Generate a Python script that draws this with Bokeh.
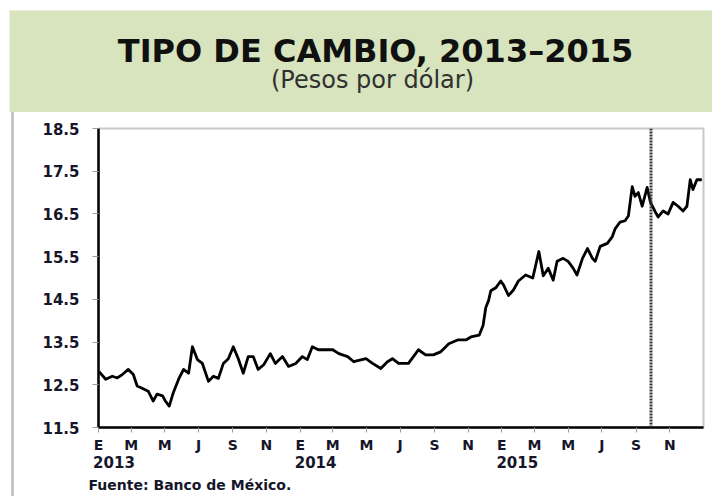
import pandas as pd
from bokeh.plotting import figure
from bokeh.models import (ColumnDataSource, Range1d, FixedTicker, CustomJSTickFormatter,
                          DatetimeAxis, Span, Title, Div)
from bokeh.layouts import column, row
from bokeh.embed import file_html
from bokeh.resources import INLINE
from bokeh.core.properties import value

TITLE = "TIPO DE CAMBIO, 2013–2015"
SUBTITLE = "(Pesos por dólar)"
SOURCE = "Fuente: Banco de México."

DATES = [
    "2013-01-02", "2013-01-14", "2013-01-26", "2013-02-04", "2013-02-13", "2013-02-24",
    "2013-03-05", "2013-03-12", "2013-03-21", "2013-04-01", "2013-04-10", "2013-04-17",
    "2013-04-27", "2013-05-02", "2013-05-09", "2013-05-16", "2013-05-26", "2013-06-04",
    "2013-06-13", "2013-06-20", "2013-06-29", "2013-07-08", "2013-07-19", "2013-07-28",
    "2013-08-06", "2013-08-15", "2013-08-24", "2013-09-02", "2013-09-11", "2013-09-20",
    "2013-09-29", "2013-10-08", "2013-10-17", "2013-10-27", "2013-11-08", "2013-11-17",
    "2013-11-30", "2013-12-11", "2013-12-24", "2014-01-05", "2014-01-14", "2014-01-23",
    "2014-02-03", "2014-02-16", "2014-03-01", "2014-03-12", "2014-03-28", "2014-04-08",
    "2014-04-30", "2014-05-12", "2014-05-27", "2014-06-08", "2014-06-17", "2014-06-28",
    "2014-07-16", "2014-07-29", "2014-08-03", "2014-08-16", "2014-08-30", "2014-09-12",
    "2014-09-27", "2014-10-13", "2014-10-28", "2014-11-06", "2014-11-21", "2014-11-28",
    "2014-12-03", "2014-12-08", "2014-12-12", "2014-12-21", "2014-12-30", "2015-01-04",
    "2015-01-13", "2015-01-22", "2015-01-31", "2015-02-13", "2015-02-26", "2015-03-09",
    "2015-03-17", "2015-03-26", "2015-04-04", "2015-04-11", "2015-04-22", "2015-05-01",
    "2015-05-10", "2015-05-17", "2015-05-27", "2015-06-05", "2015-06-14", "2015-06-19",
    "2015-06-28", "2015-07-11", "2015-07-20", "2015-07-25", "2015-08-03", "2015-08-12",
    "2015-08-18", "2015-08-25", "2015-08-30", "2015-09-05", "2015-09-12", "2015-09-21",
    "2015-09-27", "2015-10-06", "2015-10-11", "2015-10-20", "2015-10-29", "2015-11-07",
    "2015-11-16", "2015-11-25", "2015-12-02", "2015-12-08", "2015-12-13", "2015-12-20",
    "2015-12-29",
]
PESOS = [
    12.81, 12.63, 12.70, 12.66, 12.74, 12.86,
    12.74, 12.47, 12.42, 12.35, 12.12, 12.28,
    12.24, 12.12, 12.00, 12.30, 12.63, 12.86,
    12.77, 13.39, 13.09, 13.00, 12.58, 12.70,
    12.65, 13.00, 13.11, 13.39, 13.11, 12.77,
    13.16, 13.16, 12.86, 12.97, 13.23, 13.00,
    13.16, 12.93, 13.00, 13.16, 13.09, 13.39,
    13.32, 13.32, 13.32, 13.23, 13.16, 13.04,
    13.11, 13.00, 12.88, 13.04, 13.11, 13.00,
    13.00, 13.23, 13.32, 13.20, 13.20, 13.27,
    13.46, 13.55, 13.55, 13.62, 13.66, 13.89,
    14.31, 14.47, 14.70, 14.77, 14.93, 14.84,
    14.59, 14.72, 14.93, 15.07, 15.00, 15.62,
    15.05, 15.23, 14.95, 15.39, 15.46, 15.39,
    15.23, 15.07, 15.46, 15.69, 15.46, 15.39,
    15.74, 15.81, 15.97, 16.15, 16.31, 16.34,
    16.45, 17.14, 16.91, 17.00, 16.68, 17.12,
    16.77, 16.54, 16.43, 16.57, 16.50, 16.77,
    16.68, 16.57, 16.68, 17.30, 17.07, 17.30,
    17.30,
]

Y_TICKS = [11.5, 12.5, 13.5, 14.5, 15.5, 16.5, 17.5, 18.5]
MONTH_LETTERS = ["E", "F", "M", "A", "M", "J", "J", "A", "S", "O", "N", "D"]
YEARS = [2013, 2014, 2015]
X_START, X_END = "2013-01-01", "2016-01-01"
MARK_DATE = "2015-09-28"

FONT = "DejaVu Sans"
TXT = "#16162a"


def ms(d):
    return pd.Timestamp(d).timestamp() * 1000.0


W = 712
HDR_H = 112
BODY_H = 384
STRIP_W = 16

# ---------------- header band ----------------
hdr = figure(width=W, height=HDR_H, x_range=Range1d(0, W), y_range=Range1d(0, HDR_H),
             x_axis_type=None, y_axis_type=None, toolbar_location=None,
             output_backend="svg", min_border=0, outline_line_color=None)
hdr.xgrid.visible = False
hdr.ygrid.visible = False
hdr.quad(left=[9], right=[W], bottom=[0], top=[HDR_H - 10], fill_color="#d7e4bd", line_color=None)
hdr.text(x=[375], y=[HDR_H - 50], text=[TITLE], text_font=value(FONT), text_font_style="bold",
         text_font_size="32px", text_align="center", text_baseline="middle", text_color="#101010")
hdr.text(x=[372], y=[HDR_H - 79], text=[SUBTITLE], text_font=value(FONT), text_font_style="normal",
         text_font_size="24px", text_align="center", text_baseline="middle", text_color="#303030")

# ---------------- left border strip (box edge) ----------------
strip = Div(width=STRIP_W, height=BODY_H, margin=(0, 0, 0, 0),
            text=f'<div style="margin-left:11px;width:3px;height:{BODY_H}px;background:#c4c4c4"></div>')

# ---------------- main chart ----------------
src = ColumnDataSource(dict(date=pd.to_datetime(DATES), pesos=PESOS))

p = figure(width=W - STRIP_W, height=BODY_H, x_axis_type="datetime",
           x_range=Range1d(ms(X_START), ms(X_END)), y_range=Range1d(Y_TICKS[0], Y_TICKS[-1]),
           toolbar_location=None, output_backend="svg",
           min_border_left=82, min_border_right=9, min_border_top=16, min_border_bottom=64)
p.xgrid.visible = False
p.ygrid.visible = False
p.outline_line_color = "#c8c8c8"
p.outline_line_width = 2

p.line("date", "pesos", source=src, line_color="black", line_width=2.8, line_join="round")

p.add_layout(Span(location=ms(MARK_DATE), dimension="height", line_color="#383838",
                  line_width=3, line_dash="2 1"))

# y axis
ya = p.yaxis[0]
ya.ticker = FixedTicker(ticks=Y_TICKS, minor_ticks=[])
ya.axis_line_color = "black"
ya.axis_line_width = 2.5
ya.major_tick_line_color = "#9a9a9a"
ya.major_tick_out = 6
ya.major_tick_in = 0
ya.minor_tick_line_color = None
ya.major_label_standoff = 13
ya.major_label_text_font = FONT
ya.major_label_text_font_style = "bold"
ya.major_label_text_font_size = "15px"
ya.major_label_text_color = TXT

# x axis (month letters)
month_ticks = [ms(d) for d in pd.date_range(X_START, "2015-12-31", freq="2MS")]
xa = p.xaxis[0]
xa.ticker = FixedTicker(ticks=month_ticks, minor_ticks=[])
xa.formatter = CustomJSTickFormatter(args=dict(letters=MONTH_LETTERS),
                                     code="return letters[new Date(tick).getUTCMonth()];")
xa.axis_line_color = "black"
xa.axis_line_width = 2.5
xa.major_tick_line_color = "#9a9a9a"
xa.major_tick_out = 5
xa.major_tick_in = 0
xa.minor_tick_line_color = None
xa.major_label_standoff = 4
xa.major_label_text_font = FONT
xa.major_label_text_font_style = "bold"
xa.major_label_text_font_size = "14px"
xa.major_label_text_color = TXT

# year axis
year_ticks = [ms(pd.Timestamp(f"{y}-01-01") + pd.Timedelta(days=28)) for y in YEARS]
yr = DatetimeAxis(ticker=FixedTicker(ticks=year_ticks, minor_ticks=[]),
                  formatter=CustomJSTickFormatter(code="return String(new Date(tick).getUTCFullYear());"))
yr.axis_line_color = None
yr.major_tick_line_color = None
yr.minor_tick_line_color = None
yr.major_tick_out = 0
yr.major_tick_in = 0
yr.major_label_standoff = 0
yr.major_label_text_font = FONT
yr.major_label_text_font_style = "bold"
yr.major_label_text_font_size = "15px"
yr.major_label_text_color = TXT
p.add_layout(yr, "below")

p.add_layout(Title(text=SOURCE, align="left", offset=-10, standoff=8, text_font=FONT,
                   text_font_style="bold", text_font_size="14px", text_color=TXT), "below")

layout = column(hdr, row(strip, p))

open("out.html", "w").write(file_html(layout, INLINE))
